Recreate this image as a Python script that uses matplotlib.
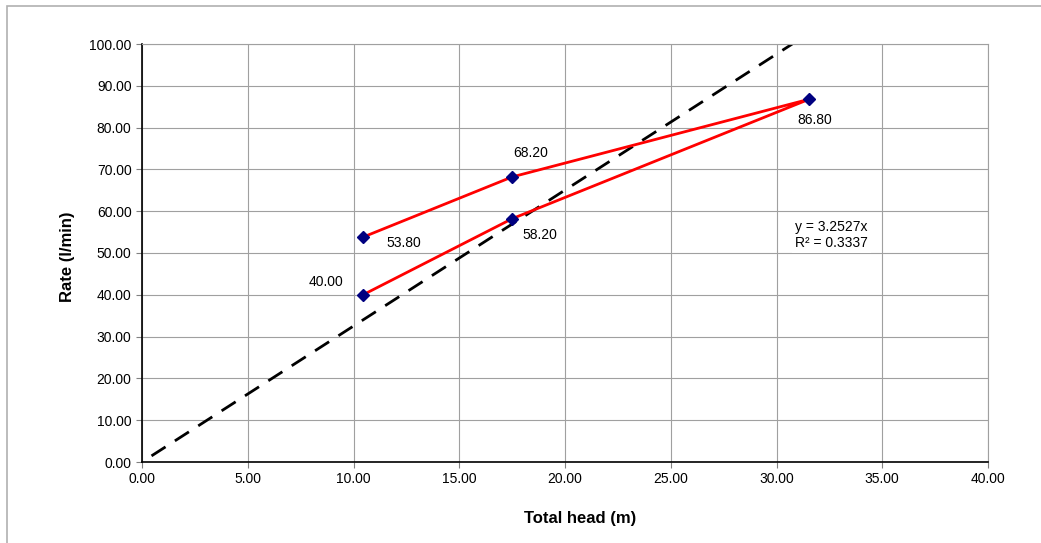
import matplotlib
matplotlib.use("Agg")
import matplotlib.pyplot as plt
from matplotlib.patches import Rectangle

plt.rcParams['font.family'] = ['Liberation Sans', 'DejaVu Sans']

# measured points, in the order they were taken
head = [10.45, 17.5, 31.55, 17.5, 10.45]
rate = [40.00, 58.20, 86.80, 68.20, 53.80]
labels = ["40.00", "58.20", "86.80", "68.20", "53.80"]
label_offsets = [(-27, 9), (20, -12), (3.6, -15), (13.7, 17), (29.5, -4)]

# linear trendline through origin
slope = 3.2527
r2 = 0.3337
trend_x = [0.45, 100 / slope]
trend_y = [slope * v for v in trend_x]

fig = plt.figure(figsize=(10.41, 5.43), dpi=100)
fig.patches.append(Rectangle((7 / 1041, -0.1), 1.2, 1 - 6 / 543 + 0.1, transform=fig.transFigure,
                             fill=False, edgecolor="#b0b0b0", linewidth=1.2))
ax = fig.add_axes([142 / 1041, 1 - 462 / 543, (988 - 142) / 1041, (462 - 44) / 543])

ax.plot(trend_x, trend_y, color="black", linestyle=(0, (6, 4)), linewidth=2, zorder=2)
ax.plot(head, rate, color="red", linewidth=2, zorder=3)
ax.plot(head, rate, linestyle="none", marker="D", markersize=6, color="#000080", zorder=4)

for x, y, t, off in zip(head, rate, labels, label_offsets):
    ax.annotate(t, (x, y), xytext=off, textcoords="offset points", fontsize=10, ha="center", va="center")

ax.text(32.6, 54.3, "y = 3.2527x\nR\u00b2 = " + str(r2), fontsize=10, ha="center", va="center",
        linespacing=1.2, bbox=dict(facecolor="white", edgecolor="none", pad=2), zorder=5)

ax.set_xlim(0, 40)
ax.set_ylim(0, 100)
ax.set_xticks(range(0, 41, 5))
ax.set_yticks(range(0, 101, 10))
ax.set_xticklabels(["%.2f" % v for v in range(0, 41, 5)])
ax.set_yticklabels(["%.2f" % v for v in range(0, 101, 10)])
ax.tick_params(labelsize=10, length=4, direction="out", color="#808080")
ax.grid(True, color="#a0a0a0", linewidth=0.8)
ax.set_axisbelow(True)
ax.spines["top"].set_color("#a0a0a0")
ax.spines["right"].set_color("#a0a0a0")
ax.spines["left"].set_linewidth(1.2)
ax.spines["bottom"].set_linewidth(1.2)

ax.set_xlabel("Total head (m)", fontsize=12, fontweight="bold")
ax.set_ylabel("Rate (l/min)", fontsize=12, fontweight="bold")
ax.xaxis.set_label_coords(0.518, -0.118)
ax.yaxis.set_label_coords(-0.079, 0.49)

fig.savefig("out.png", dpi=100)
